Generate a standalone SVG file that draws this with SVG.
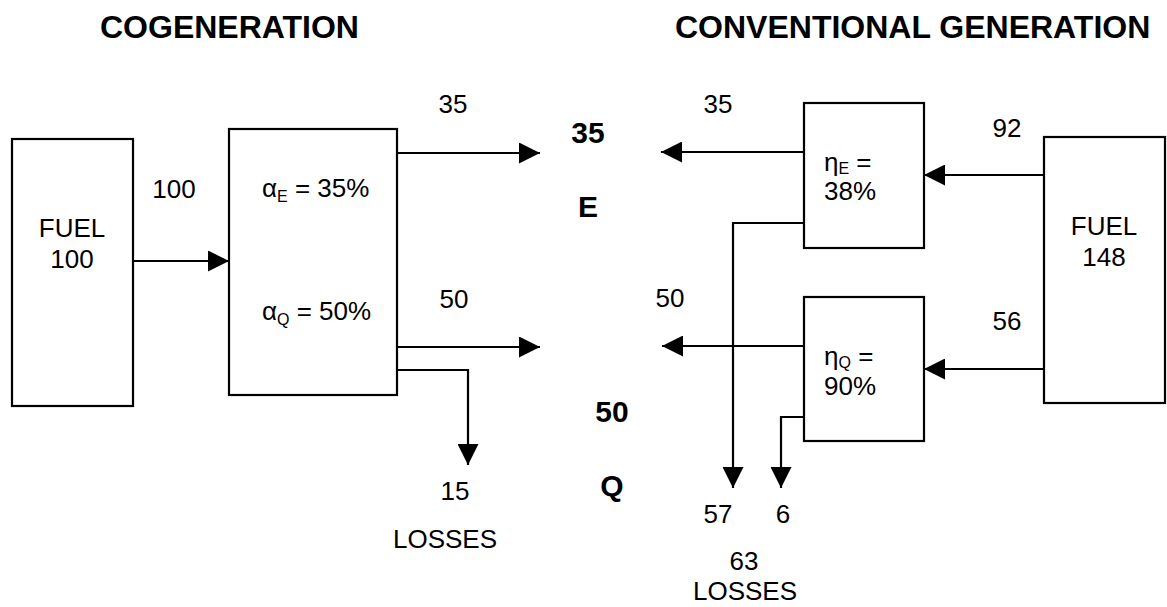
<svg xmlns="http://www.w3.org/2000/svg" width="1167" height="607" viewBox="0 0 1167 607">
  <style>
    .box { fill: #fff; stroke: #000; stroke-width: 2.2; }
    .ln { fill: none; stroke: #000; stroke-width: 2.2; }
    .t { font-family: "Liberation Sans", Arial, sans-serif; font-size: 26px; fill: #000; }
    .c { text-anchor: middle; }
    .b { font-family: "Liberation Sans", Arial, sans-serif; font-weight: bold; font-size: 30px; fill: #000; text-anchor: middle; }
    .title { font-family: "Liberation Sans", Arial, sans-serif; font-weight: bold; font-size: 32px; fill: #000; }
    .sub { font-size: 16px; }
  </style>
  <defs>
    <marker id="arrow" viewBox="0 0 21 21" refX="21" refY="10.5" markerWidth="21" markerHeight="21" markerUnits="userSpaceOnUse" orient="auto">
      <path d="M0,0 L21,10.5 L0,21 Z" fill="#000"/>
    </marker>
  </defs>

  <rect width="1167" height="607" fill="#fff"/>

  <!-- headings -->
  <text class="title" x="100" y="38">COGENERATION</text>
  <text class="title" x="675" y="38">CONVENTIONAL GENERATION</text>

  <!-- cogeneration side -->
  <g id="fuel-cogen">
    <rect class="box" x="12" y="139" width="121" height="267"/>
    <text class="t c" x="72" y="237">FUEL</text>
    <text class="t c" x="72" y="268">100</text>
  </g>
  <g id="cogen-unit">
    <rect class="box" x="229" y="129" width="168" height="266"/>
    <text class="t" x="262" y="197">α<tspan class="sub" dy="5">E</tspan><tspan dy="-5"> = 35%</tspan></text>
    <text class="t" x="262" y="320">α<tspan class="sub" dy="5">Q</tspan><tspan dy="-5"> = 50%</tspan></text>
  </g>

  <!-- conventional side -->
  <g id="power-plant">
    <rect class="box" x="804" y="103" width="120" height="145"/>
    <text class="t" x="824" y="171">η<tspan class="sub" dy="3">E</tspan><tspan dy="-3"> =</tspan></text>
    <text class="t" x="824" y="200">38%</text>
  </g>
  <g id="boiler">
    <rect class="box" x="804" y="297" width="120" height="144"/>
    <text class="t" x="824" y="365">η<tspan class="sub" dy="3">Q</tspan><tspan dy="-3"> =</tspan></text>
    <text class="t" x="824" y="395">90%</text>
  </g>
  <g id="fuel-conv">
    <rect class="box" x="1044" y="137" width="121" height="266"/>
    <text class="t c" x="1104" y="235">FUEL</text>
    <text class="t c" x="1104" y="266">148</text>
  </g>

  <!-- flows -->
  <g id="connectors">
    <path class="ln" d="M133,261 H229" marker-end="url(#arrow)"/>
    <path class="ln" d="M397,153 H540" marker-end="url(#arrow)"/>
    <path class="ln" d="M397,347 H540" marker-end="url(#arrow)"/>
    <path class="ln" d="M397,370 H468 V465" marker-end="url(#arrow)"/>
    <path class="ln" d="M804,152 H661" marker-end="url(#arrow)"/>
    <path class="ln" d="M804,346 H662" marker-end="url(#arrow)"/>
    <path class="ln" d="M1044,175 H924" marker-end="url(#arrow)"/>
    <path class="ln" d="M1044,369 H924" marker-end="url(#arrow)"/>
    <path class="ln" d="M804,223 H733 V488" marker-end="url(#arrow)"/>
    <path class="ln" d="M804,417 H781 V488" marker-end="url(#arrow)"/>
  </g>

  <!-- flow values -->
  <g id="labels">
    <text class="t c" x="174" y="198">100</text>
    <text class="t c" x="453" y="113">35</text>
    <text class="t c" x="454" y="308">50</text>
    <text class="t c" x="455" y="500">15</text>
    <text class="t c" x="445" y="548">LOSSES</text>

    <text class="b" x="588" y="143">35</text>
    <text class="b" x="588" y="217">E</text>
    <text class="b" x="612" y="422">50</text>
    <text class="b" x="612" y="496">Q</text>

    <text class="t c" x="718" y="113">35</text>
    <text class="t c" x="670" y="307">50</text>
    <text class="t c" x="1007" y="137">92</text>
    <text class="t c" x="1007" y="330">56</text>
    <text class="t c" x="718" y="523">57</text>
    <text class="t c" x="783" y="523">6</text>
    <text class="t c" x="744" y="570">63</text>
    <text class="t c" x="745" y="600">LOSSES</text>
  </g>
</svg>
